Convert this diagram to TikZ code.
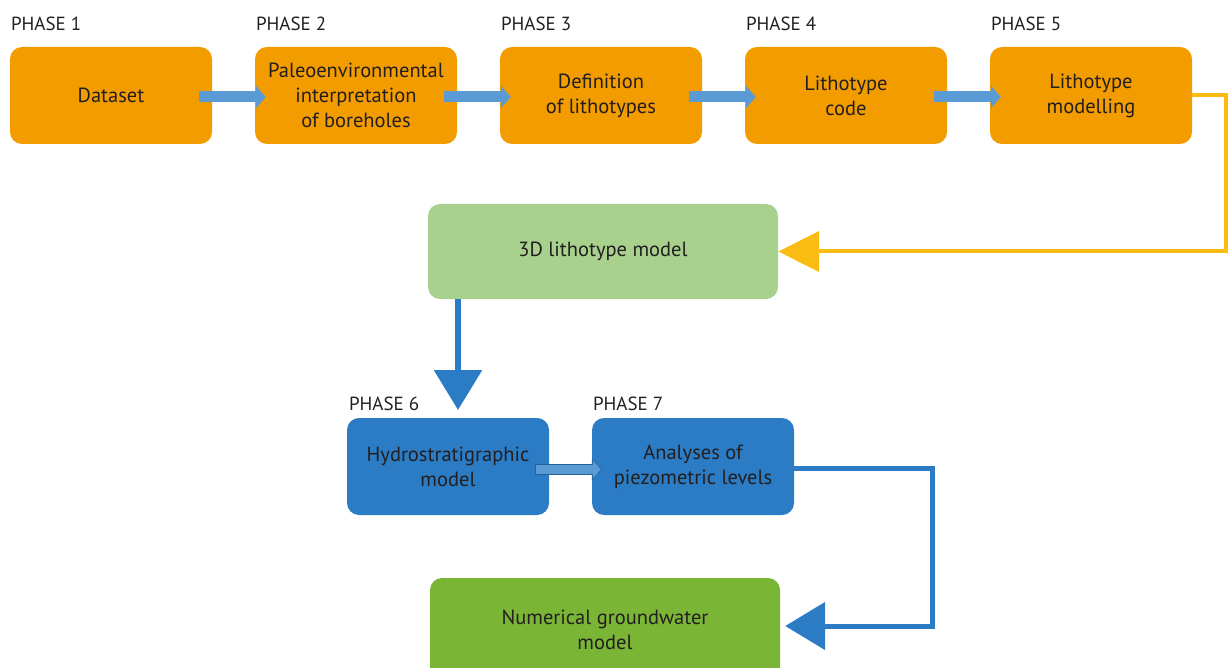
\documentclass[tikz,border=0pt]{standalone}
\usepackage{fontspec}
\setmainfont{PT Sans}
\usepackage{xcolor}
\usepackage{tikz}
\usetikzlibrary{arrows.meta}
\definecolor{ink}{HTML}{231F20}
\definecolor{orng}{HTML}{F39C00}
\definecolor{palegreen}{HTML}{A9D18E}
\definecolor{grassgreen}{HTML}{7AB536}
\definecolor{deepblue}{HTML}{2B7CC4}
\definecolor{lightblue}{HTML}{5B9BD5}
\definecolor{amber}{HTML}{FABB13}
\tikzset{
  box/.style={rectangle, rounded corners=12pt, minimum width=202pt, minimum height=97pt,
    inner sep=0pt, align=center, text=ink, font=\fontsize{20.5}{25}\selectfont},
  phasebox/.style={box, fill=orng},
  hydbox/.style={box, fill=deepblue},
  wide/.style={box, minimum width=350pt, minimum height=95pt},
  phaselab/.style={anchor=south west, text=ink, inner sep=0pt, font=\fontsize{19}{22}\selectfont},
  smallarr/.style={draw=lightblue, line width=11pt, -{Triangle[length=10pt,width=22pt]}},
  yelarr/.style={draw=amber, line width=4pt, -{Triangle[length=41pt,width=40pt]}},
  bluearr/.style={draw=deepblue, line width=5pt, -{Triangle[length=40pt,width=47pt]}},
}
\begin{document}
\begin{tikzpicture}[x=1pt, y=-1pt]
  \useasboundingbox (0,0) rectangle (1228,668);
  % first row
  \node[phasebox] (b1) at (111,95.5) {Dataset};
  \node[phasebox] (b2) at (356,95.5) {Paleoenvironmental\\interpretation\\of boreholes};
  \node[phasebox] (b3) at (601,95.5) {Definition\\of lithotypes};
  \node[phasebox] (b4) at (846,95.5) {Lithotype\\code};
  \node[phasebox] (b5) at (1091,95.5) {Lithotype\\modelling};
  \foreach \n in {1,...,5}
    \node[phaselab] at ([xshift=1pt,yshift=16pt]b\n.north west) {PHASE \n};
  \foreach \a/\b in {b1/b2,b2/b3,b3/b4,b4/b5}
    \draw[smallarr] ([xshift=-13pt,yshift=-1.5pt]\a.east) -- ([xshift=11pt,yshift=-1.5pt]\b.west);
  % lithotype model
  \node[wide, fill=palegreen] (g1) at (603,251.5) {3D lithotype model};
  \draw[yelarr] (b5.east) -- ++(34,0) |- (g1.east);
  % second row
  \node[hydbox] (b6) at (448,466.5) {Hydrostratigraphic\\model};
  \node[hydbox] (b7) at (693,466.5) {Analyses of\\piezometric levels};
  \node[phaselab] at ([xshift=2pt,yshift=7pt]b6.north west) {PHASE 6};
  \node[phaselab] at ([xshift=1pt,yshift=7pt]b7.north west) {PHASE 7};
  \coordinate (down) at (458,410);
  \draw[bluearr, line width=6pt] (g1.south -| down) -- (down);
  \draw[draw=deepblue!80!black, line width=11pt, -{Triangle[length=10pt,width=21pt]}]
    ([xshift=-14pt,yshift=-3pt]b6.east) -- ([xshift=10pt,yshift=-3pt]b7.west);
  \draw[draw=lightblue, line width=9pt, -{Triangle[length=8pt,width=18pt]}, shorten >=1pt]
    ([xshift=-13pt,yshift=-3pt]b6.east) -- ([xshift=10pt,yshift=-3pt]b7.west);
  % groundwater model
  \node[wide, fill=grassgreen, minimum height=104pt] (g2) at (605,630) {Numerical groundwater\\model};
  \draw[bluearr] ([yshift=-1.5pt]b7.east) -- ++(138,0) |- ([xshift=5pt,yshift=4pt]g2.east);
\end{tikzpicture}
\end{document}
